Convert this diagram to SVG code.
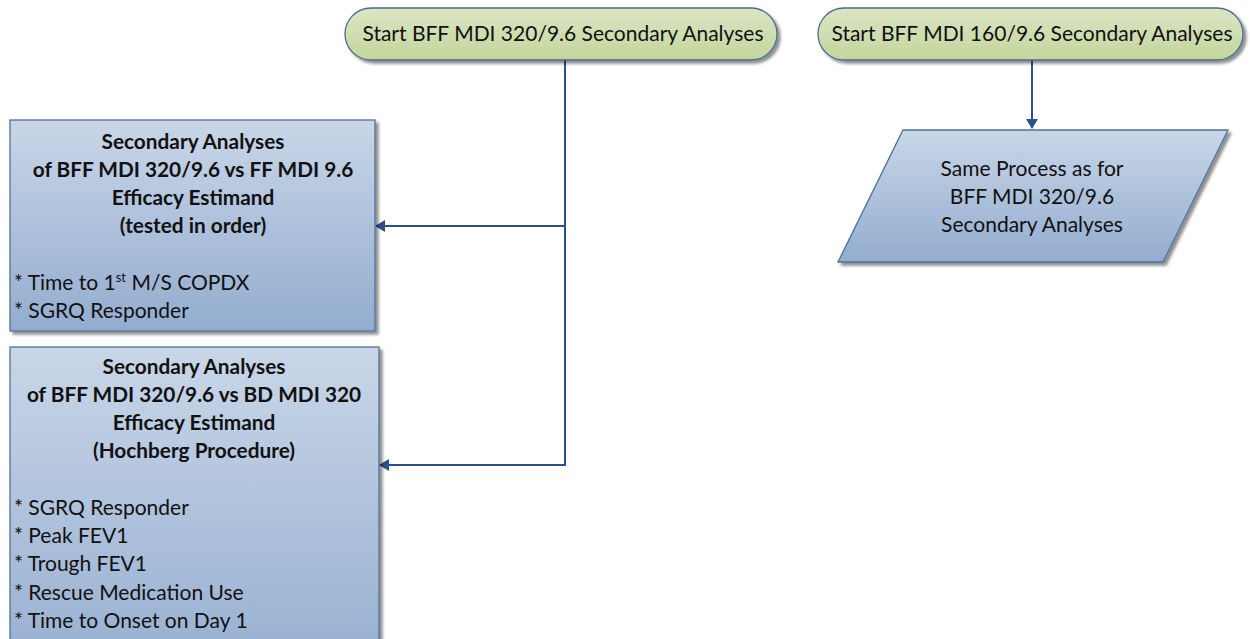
<svg xmlns="http://www.w3.org/2000/svg" width="1250" height="639" viewBox="0 0 1250 639">
<defs>
<linearGradient id="gGreen" x1="0" y1="0" x2="0" y2="1">
<stop offset="0" stop-color="#dbe6c4"/><stop offset="1" stop-color="#c3d59c"/>
</linearGradient>
<linearGradient id="gBlue" x1="0" y1="0" x2="0" y2="1">
<stop offset="0" stop-color="#c9d6e8"/><stop offset="1" stop-color="#93acce"/>
</linearGradient>
<linearGradient id="gBlue2" x1="0" y1="0" x2="0" y2="1">
<stop offset="0" stop-color="#c9d6e8"/><stop offset="1" stop-color="#9ab2d2"/>
</linearGradient>
<filter id="sh" x="-5%" y="-5%" width="115%" height="120%">
<feGaussianBlur in="SourceAlpha" stdDeviation="1.5"/>
<feOffset dx="3" dy="3" result="b"/>
<feComponentTransfer><feFuncA type="linear" slope="0.45"/></feComponentTransfer>
<feMerge><feMergeNode/><feMergeNode in="SourceGraphic"/></feMerge>
</filter>
<marker id="arr" markerWidth="10" markerHeight="12" refX="9" refY="6" orient="auto" markerUnits="userSpaceOnUse">
<path d="M0,0 L10,6 L0,12 Z" fill="#2b5189"/>
</marker>
</defs>
<style>
.t{font-family:Lato,"Liberation Sans",sans-serif;fill:#111;}
.s{font-size:21px;}
.b{font-size:20.8px;font-weight:bold;}
.n{font-size:21px;}
.start{fill:url(#gGreen);stroke:#4a6a8e;stroke-width:1.3;filter:url(#sh);}
.box{fill:url(#gBlue);stroke:#50709a;stroke-width:1.3;filter:url(#sh);}
.conn{fill:none;stroke:#2b5189;stroke-width:2;}
</style>

<g id="connectors">
<path class="conn" d="M565,60 V226 H376" marker-end="url(#arr)"/>
<path class="conn" d="M565,226 V465 H380" marker-end="url(#arr)"/>
<path class="conn" d="M1032,60 V128" marker-end="url(#arr)"/>
</g>

<g id="start320">
<rect class="start" x="345" y="8" width="432" height="52" rx="26" ry="26"/>
<text class="t s" x="563" y="41" text-anchor="middle">Start BFF MDI 320/9.6 Secondary Analyses</text>
</g>

<g id="start160">
<rect class="start" x="818" y="8" width="425" height="52" rx="26" ry="26"/>
<text class="t s" x="1032" y="41" text-anchor="middle">Start BFF MDI 160/9.6 Secondary Analyses</text>
</g>

<g id="box1">
<rect class="box" x="10" y="120" width="365" height="211"/>
<text class="t b" x="193" y="149" text-anchor="middle">Secondary Analyses</text>
<text class="t b" x="193" y="177" text-anchor="middle">of BFF MDI 320/9.6 vs FF MDI 9.6</text>
<text class="t b" x="193" y="205" text-anchor="middle">Efficacy Estimand</text>
<text class="t b" x="193" y="233" text-anchor="middle">(tested in order)</text>
<text class="t n" x="14" y="290">* Time to 1<tspan font-size="13" dy="-8">st</tspan><tspan dy="8"> M/S COPDX</tspan></text>
<text class="t n" x="14" y="318">* SGRQ Responder</text>
</g>

<g id="box2">
<rect class="box" x="10" y="347" width="369" height="300" style="fill:url(#gBlue2)"/>
<text class="t b" x="194" y="374" text-anchor="middle">Secondary Analyses</text>
<text class="t b" x="194" y="402" text-anchor="middle">of BFF MDI 320/9.6 vs BD MDI 320</text>
<text class="t b" x="194" y="430" text-anchor="middle">Efficacy Estimand</text>
<text class="t b" x="194" y="458" text-anchor="middle">(Hochberg Procedure)</text>
<text class="t n" x="14" y="515">* SGRQ Responder</text>
<text class="t n" x="14" y="543">* Peak FEV1</text>
<text class="t n" x="14" y="571">* Trough FEV1</text>
<text class="t n" x="14" y="600">* Rescue Medication Use</text>
<text class="t n" x="14" y="628">* Time to Onset on Day 1</text>
</g>

<g id="same160">
<path class="box" d="M903,130 H1228 L1163,262 H838 Z"/>
<text class="t n" x="1032" y="176" text-anchor="middle">Same Process as for</text>
<text class="t n" x="1032" y="204" text-anchor="middle">BFF MDI 320/9.6</text>
<text class="t n" x="1032" y="232" text-anchor="middle">Secondary Analyses</text>
</g>
</svg>
